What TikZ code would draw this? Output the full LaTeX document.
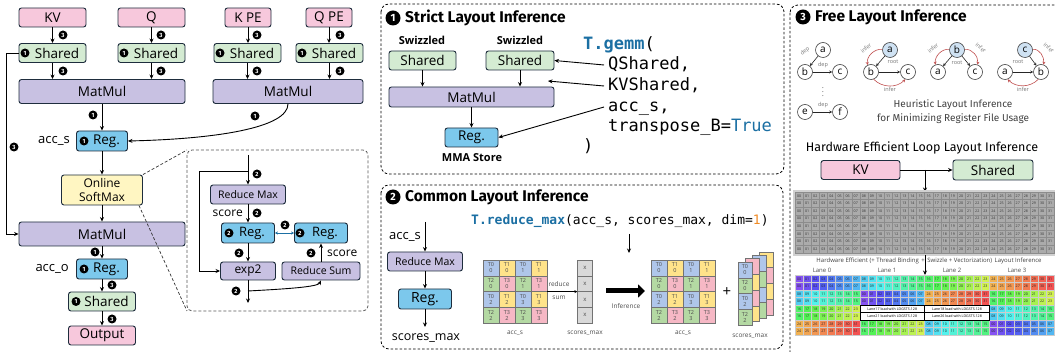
\documentclass[tikz,border=0pt]{standalone}
\usepackage{fontspec}
\setmainfont{Open Sans}
\newfontfamily\fira{Fira Sans}
\newfontfamily\mono{DejaVu Sans Mono}
\usetikzlibrary{arrows.meta,calc}
\definecolor{bdr}{HTML}{1E2D3D}
\definecolor{cpink}{HTML}{F7C8DC}
\definecolor{cgreen}{HTML}{D4EBD2}
\definecolor{cpurp}{HTML}{C8C1E2}
\definecolor{cblue}{HTML}{7CC8EC}
\definecolor{cyel}{HTML}{FFF6C2}
\definecolor{codeblue}{HTML}{1B6FA3}
\definecolor{codeorange}{HTML}{F08A24}
\definecolor{tb}{HTML}{AFC6EA}
\definecolor{ty}{HTML}{FFE38A}
\definecolor{tg}{HTML}{B4D9A3}
\definecolor{tp}{HTML}{F6B8C5}
\definecolor{inferred}{HTML}{C05050}
\definecolor{rootblue}{HTML}{CFE2F3}
\newcommand\fs[1]{\fontsize{#1}{#1}\selectfont}
\tikzset{
  box/.style={draw=bdr, line width=0.9pt, rounded corners=2.5pt, inner sep=0pt, font=\fs{13.5}},
  pinkbox/.style={box, fill=cpink},
  greenbox/.style={box, fill=cgreen},
  purpbox/.style={box, fill=cpurp},
  bluebox/.style={box, fill=cblue},
  yelbox/.style={box, fill=cyel},
  sz/.style 2 args={minimum width=#1, minimum height=#2},
  arr/.style={-{Stealth[length=4.5pt,width=4pt]}, line width=0.9pt},
  darr/.style={{Stealth[length=3pt,width=3pt]}-{Stealth[length=3pt,width=3pt]}, line width=0.7pt, draw=codeblue},
  bdg/.style={circle, fill=black, text=white, inner sep=0pt, minimum size=9pt, font=\fira\bfseries\fs{6}},
  hbdg/.style={circle, fill=black, text=white, inner sep=0pt, minimum size=15pt, font=\fira\bfseries\fs{10.5}},
  panel/.style={draw=black, line width=0.8pt, dash pattern=on 2.5pt off 2pt, rounded corners=8pt},
  callout/.style={draw=black!65, line width=0.8pt, dash pattern=on 3pt off 2pt, rounded corners=5pt},
  calloutline/.style={draw=black!80, line width=0.7pt, dash pattern=on 3pt off 2pt},
  lbl/.style={inner sep=0pt, font=\fs{13}},
  heading/.style={inner sep=0pt, anchor=west, font=\fira\bfseries\fs{15.5}},
  code/.style={inner sep=0pt, anchor=west, text height=12pt, text depth=3pt, font=\mono\fs{17}},
  cell/.style={draw=black!55, line width=0.3pt, minimum width=16pt, minimum height=15.75pt, inner sep=0pt, align=center, font=\fontsize{5.5}{6}\selectfont, text=black!70},
  xcell/.style={draw=black!55, line width=0.3pt, fill=black!15, minimum width=15pt, minimum height=15.75pt, inner sep=0pt, font=\fs{6}, text=black!70},
  scell/.style={draw=black!55, line width=0.3pt, minimum width=14pt, minimum height=15.75pt, inner sep=0pt, align=center, font=\fontsize{5.5}{6}\selectfont, text=black!70},
  small/.style={inner sep=0pt, font=\fs{6.5}, text=black!70},
  gnode/.style={circle, draw=black!75, line width=0.6pt, minimum size=15pt, inner sep=0pt, font=\fs{10}, fill=white},
  garr/.style={-{Stealth[length=3pt,width=3pt]}, line width=0.6pt, draw=black!85},
  infer/.style={-{Stealth[length=3pt,width=3pt]}, line width=0.6pt, draw=inferred},
  glbl/.style={inner sep=0pt, font=\fs{5.5}, text=black!55},
  gray cell/.style={draw=black!45, line width=0.25pt, fill=black!33, minimum width=8.1pt, minimum height=7.6pt, inner sep=0pt, font=\fs{3.6}, text=black!80},
  col cell/.style={draw=white!60!gray, line width=0.25pt, minimum width=8.1pt, minimum height=7.5pt, inner sep=0pt, font=\fs{3.6}, text=black!85},
  wbox/.style={draw=black, line width=0.5pt, fill=white, minimum width=64.8pt, minimum height=7.5pt, inner sep=0pt, font=\fs{3.6}},
}
\begin{document}
\begin{tikzpicture}[x=1pt,y=-1pt]
\useasboundingbox (0,0) rectangle (1055,352);
% ================= LEFT PANEL =================
\node[pinkbox, sz={67}{19}] (kv) at (52.5,17.5) {KV};
\node[pinkbox, sz={67}{19}] (q) at (151.5,17.5) {Q};
\node[pinkbox, sz={46}{19}] (kpe) at (248,17.5) {K PE};
\node[pinkbox, sz={46}{19}] (qpe) at (329,17.5) {Q PE};
\node[greenbox, sz={67}{19}] (sh1) at (52.5,53) {\hspace{9pt}Shared};
\node[greenbox, sz={67}{19}] (sh2) at (151.5,53) {\hspace{9pt}Shared};
\node[greenbox, sz={67}{19}] (sh3) at (247.5,53) {\hspace{9pt}Shared};
\node[greenbox, sz={67}{19}] (sh4) at (329.5,53) {\hspace{9pt}Shared};
\node[purpbox, sz={166}{24}] (mm1) at (102,91.5) {MatMul};
\node[purpbox, sz={150}{24}] (mm2) at (288,91.5) {MatMul};
\node[bluebox, sz={51}{20}] (reg1) at (102,141) {\hspace{9pt}Reg.};
\node[yelbox, sz={81}{30}, align=center, font=\fontsize{12}{14}\selectfont] (osm) at (102,190) {Online\\SoftMax};
\node[purpbox, sz={166}{24}] (mm3) at (102,234) {MatMul};
\node[bluebox, sz={51}{20}] (reg2) at (102,269) {\hspace{9pt}Reg.};
\node[greenbox, sz={67}{19}] (sh5) at (102,301.5) {\hspace{9pt}Shared};
\node[pinkbox, sz={67}{19}] (outp) at (102,335.5) {Output};

\draw[arr] (kv) -- (sh1);
\draw[arr] (q) -- (sh2);
\draw[arr] (kpe.south) -- (kpe.south |- sh3.north);
\draw[arr] (qpe.south) -- (qpe.south |- sh4.north);
\draw[arr] (sh1.south) -- (sh1.south |- mm1.north);
\draw[arr] (sh2.south) -- (sh2.south |- mm1.north);
\draw[arr] (sh3.south) -- (sh3.south |- mm2.north);
\draw[arr] (sh4.south) -- (sh4.south |- mm2.north);
\draw[arr] (mm1) -- (reg1);
\draw[arr] (mm2.south) .. controls (288,128) and (215,139) .. (reg1.east);
\draw[arr] (reg1) -- (osm);
\draw[arr] (osm) -- (mm3);
\draw[arr] (mm3) -- (reg2);
\draw[arr] (reg2) -- (sh5);
\draw[arr] (sh5) -- (outp);
\draw[arr] (sh1.west) -- ++(-12,0) |- (mm3.west);

\node[lbl, anchor=east] (laccs) at (70,141) {acc\_s};
\node[lbl, anchor=east] (lacco) at (69,269) {acc\_o};

\node[bdg] (b01) at (63,35) {3};
\node[bdg] (b02) at (63,71) {3};
\node[bdg] (b03) at (161,35) {3};
\node[bdg] (b04) at (161,71) {3};
\node[bdg] (b05) at (257,35) {3};
\node[bdg] (b06) at (257,71) {3};
\node[bdg] (b07) at (340,35) {3};
\node[bdg] (b08) at (340,71) {3};
\node[bdg] (b09) at (25,53) {1};
\node[bdg] (b10) at (124,53) {1};
\node[bdg] (b11) at (220,53) {1};
\node[bdg] (b12) at (302,53) {1};
\node[bdg] (b13) at (93,115) {1};
\node[bdg] (b14) at (255,116) {1};
\node[bdg] (b15) at (14,147) {3};
\node[bdg] (b16) at (84,141) {1};
\node[bdg] (b17) at (95,252) {1};
\node[bdg] (b18) at (84,269) {1};
\node[bdg] (b19) at (112,285) {3};
\node[bdg] (b20) at (76,301.5) {1};
\node[bdg] (b21) at (112,319) {3};

% callout
\coordinate (co1) at (187,150);
\coordinate (co2) at (187,311);
\draw[callout] (co1) rectangle (368,311);
\draw[calloutline] (osm.north east) -- (co1);
\draw[calloutline] ($(osm.south east)+(-4,0)$) -- (co2);
\coordinate (ctop) at (248,155);
\coordinate (cbr) at (248,171);
\node[purpbox, sz={75}{19}, font=\fs{10.5}] (rmax) at (248,194.5) {Reduce Max};
\node[bluebox, sz={53}{20}, font=\fs{13}] (rega) at (248,233) {\hspace{8pt}Reg.};
\node[bluebox, sz={53}{20}, font=\fs{13}] (regb) at (321,233) {\hspace{8pt}Reg.};
\node[purpbox, sz={55}{18}, font=\fs{12}] (expn) at (248,271) {exp2};
\node[purpbox, sz={78}{18}, font=\fs{10.5}] (rsum) at (321,271) {Reduce Sum};
\coordinate (cmid) at (248,291);
\coordinate (cbot) at (248,303);
\draw[arr] (ctop) -- (rmax);
\draw[arr] (cbr) -- (199,171) -- (199,271) -- (expn.west);
\draw[arr] (rmax) -- (rega);
\draw[arr] (rega) -- (expn);
\draw[darr] (rega) -- (regb);
\draw[arr] (rsum) -- (regb);
\draw[arr] (expn) -- (cbot);
\draw[arr] (cmid) .. controls (285,289) and (318,287) .. (rsum.south);
\node[lbl, anchor=east, font=\fs{12}] (lsc1) at (243,213) {score};
\node[lbl, anchor=west, font=\fs{12}] (lsc2) at (327,253) {score};
\node[bdg] (c01) at (257,174) {2};
\node[bdg] (c02) at (257,213) {2};
\node[bdg] (c03) at (229,233) {2};
\node[bdg] (c04) at (300,233) {2};
\node[bdg] (c05) at (285,225) {2};
\node[bdg] (c06) at (239,253) {2};
\node[bdg] (c07) at (311,253) {2};
\node[bdg] (c08) at (236,291) {2};

% ================= MIDDLE PANEL: box 1 =================
\draw[panel] (381,4) rectangle (784,174);
\node[hbdg] (h1) at (393,18) {1};
\node[heading] (h1t) at (405,18) {Strict Layout Inference};
\node[inner sep=0pt, font=\bfseries\fs{11}] (swz1) at (422,40) {Swizzled};
\node[inner sep=0pt, font=\bfseries\fs{11}] (swz2) at (520,40) {Swizzled};
\node[greenbox, sz={67}{19}] (shA) at (422.5,60.5) {Shared};
\node[greenbox, sz={68}{19}] (shB) at (520,60.5) {Shared};
\node[purpbox, sz={165}{20}] (mmA) at (471.5,97) {MatMul};
\node[bluebox, sz={53}{19}] (regC) at (471.5,137.5) {Reg.};
\node[inner sep=0pt, font=\bfseries\fs{11}] (mma) at (472,158) {MMA Store};
\draw[arr] (shA.south) -- (shA.south |- mmA.north);
\draw[arr] (shB.south) -- (shB.south |- mmA.north);
\draw[arr] (mmA) -- (regC);

\node[code] (c1) at (583,45) {\textcolor{codeblue}{\bfseries T.gemm}(};
\node[code] (c2) at (608,65) {QShared,};
\node[code] (c3) at (608,86) {KVShared,};
\node[code] (c4) at (608,107) {acc\_s,};
\node[code] (c5) at (608,127) {transpose\_B=\textcolor{codeblue}{True}};
\node[code] (c6) at (583,147) {)};
\coordinate (kvtgt) at (548,81);
\draw[arr] ($(c2.west)+(-4,0)$) -- (shB.east);
\draw[arr] ($(c3.west)+(-4,0)$) -- (kvtgt);
\draw[arr] ($(c4.west)+(-4,0)$) -- (regC.east);

% ================= MIDDLE PANEL: box 2 =================
\draw[panel] (381,185) rectangle (783,349);
\node[hbdg] (h2) at (393,197) {2};
\node[heading] (h2t) at (405,197) {Common Layout Inference};
\node[inner sep=0pt, anchor=west, text height=9pt, text depth=2.5pt, font=\mono\fs{13}] (rcode) at (471,221)
  {\textcolor{codeblue}{\bfseries T.reduce\_max}(acc\_s, scores\_max, dim=\textcolor{codeorange}{1})};
\coordinate (dtop) at (629,234);
\coordinate (dbot) at (629,253);
\draw[arr] (dtop) -- (dbot);

\node[lbl] (laccs2) at (405,237) {acc\_s};
\coordinate (ain) at (425,222);
\node[purpbox, sz={75}{19}, font=\fs{10.5}] (rmax2) at (425,261.5) {Reduce Max};
\node[bluebox, sz={53}{20}, font=\fs{14}] (reg3) at (425,299) {Reg.};
\coordinate (aout) at (425,327);
\node[lbl, font=\fs{12.5}] (lsm) at (426,338) {scores\_max};
\draw[arr] (ain) -- (rmax2);
\draw[arr] (rmax2) -- (reg3);
\draw[arr] (reg3) -- (aout);

% acc_s grids
\foreach \gx/\gn in {483/ga, 651/gb}{
  \foreach \ri/\ci/\col/\tn/\nn in {0/0/tb/0/0, 0/1/ty/1/0, 0/2/tb/0/1, 0/3/ty/1/1,
      1/0/tg/2/0, 1/1/tp/3/0, 1/2/tg/2/1, 1/3/tp/3/1,
      2/0/tb/0/2, 2/1/ty/1/2, 2/2/tb/0/3, 2/3/ty/1/3,
      3/0/tg/2/2, 3/1/tp/3/2, 3/2/tg/2/3, 3/3/tp/3/3}{
    \node[cell, fill=\col] (\gn-\ri-\ci) at (\gx+8+16*\ci, 267.9+15.75*\ri) {T\tn\\\nn};
  }
}
\node[small] (lga) at (515,333) {acc\_s};
\node[small] (lgb) at (683,333) {acc\_s};
% reduce sum column
\foreach \ri in {0,...,3}{
  \node[xcell] (xs-\ri) at (585,267.9+15.75*\ri) {x};
}
\node[small] (lxs) at (585,333) {scores\_max};
\node[small, font=\fs{6.5}] (lred) at (559,284) {reduce};
\node[small, font=\fs{6.5}] (lsum) at (559,298) {sum};
\draw[-{Stealth[length=3pt,width=3pt]}, line width=0.6pt] (ga-1-3.south east) -- (xs-1.south west);
% inference arrow
\coordinate (ia1) at (606,291);
\coordinate (ia2) at (645,291);
\draw[line width=5pt, -{Triangle[length=7pt,width=13pt]}] (ia1) -- (ia2);
\node[small] (linf) at (626,306) {Inference};
\node[inner sep=0pt, font=\fs{15}] (plus) at (727,292) {+};
% stacked scores_max
\foreach \k/\ca/\cb in {3/ty/tp, 2/tb/tg, 1/tp/ty}{
  \foreach \ri in {0,...,3}{
    \ifodd\ri
      \node[scell, fill=\cb] (st-\k-\ri) at (745+7*\k, 269.9-3.4*\k+15.75*\ri) {};
    \else
      \node[scell, fill=\ca] (st-\k-\ri) at (745+7*\k, 269.9-3.4*\k+15.75*\ri) {};
    \fi
  }
}
\foreach \ri/\col/\tn/\nn in {0/tb/0/0, 1/tg/2/0, 2/tb/0/2, 3/tg/2/2}{
  \node[scell, fill=\col] (st-0-\ri) at (745, 269.9+15.75*\ri) {T\tn\\\nn};
}
\node[small] (lst) at (750,336) {scores\_max};

% ================= RIGHT PANEL =================
\draw[panel] (790,5) rectangle (1075,370);
\node[hbdg] (h3) at (803,17) {3};
\node[heading] (h3t) at (815,17) {Free Layout Inference};

% graph 1
\node[gnode] (g1a) at (823,50) {a};
\node[gnode] (g1b) at (805,72) {b};
\node[gnode] (g1c) at (840,72) {c};
\node[gnode] (g1e) at (805,112) {e};
\node[gnode] (g1f) at (840,112) {f};
\draw[garr] (g1a) -- (g1b);
\draw[garr] (g1b) -- (g1c);
\draw[garr] (g1e) -- (g1f);
\node[glbl, rotate=38] (d1) at (805,51) {dep};
\node[glbl] (d2) at (823,65) {dep};
\node[glbl] (d3) at (823,105) {dep};
\node[inner sep=0pt, font=\fs{8}, text=black!60] (vd) at (823,89) {$\vdots$};
% graph 2
\node[gnode, fill=rootblue] (g2a) at (890,50) {a};
\node[gnode] (g2b) at (871,72) {b};
\node[gnode] (g2c) at (908,72) {c};
\draw[garr] (g2a) -- (g2b);
\draw[garr] (g2b) -- (g2c);
\draw[infer] (g2a.175) to[out=175,in=100] (g2b.115);
\draw[infer] (g2b.-70) to[out=-45,in=-135] (g2c.-110);
\node[glbl] (r2) at (893,62) {root};
\node[glbl, rotate=40] (i2a) at (866,48) {infer};
\node[glbl] (i2b) at (890,89) {infer};
% graph 3
\node[gnode, fill=rootblue] (g3b) at (957,50) {b};
\node[gnode] (g3a) at (938,72) {a};
\node[gnode] (g3c) at (975,72) {c};
\draw[garr] (g3b) -- (g3a);
\draw[garr] (g3b) -- (g3c);
\draw[infer] (g3b.175) to[out=175,in=95] (g3a.110);
\draw[infer] (g3b.5) to[out=5,in=85] (g3c.70);
\node[glbl] (r3) at (957,62.5) {root};
\node[glbl, rotate=40] (i3a) at (933,48) {infer};
\node[glbl, rotate=-40] (i3b) at (981,48) {infer};
% graph 4
\node[gnode, fill=rootblue] (g4c) at (1025,50) {c};
\node[gnode] (g4a) at (1005,72) {a};
\node[gnode] (g4b) at (1041,72) {b};
\draw[garr] (g4a) -- (g4b);
\draw[garr] (g4c) -- (g4b);
\draw[infer] (g4c.5) to[out=5,in=85] (g4b.70);
\draw[infer] (g4b.-110) to[out=-135,in=-45] (g4a.-70);
\node[glbl] (r4) at (1018,62) {root};
\node[glbl, rotate=-40] (i4a) at (1049,48) {infer};
\node[glbl] (i4b) at (1023,89) {infer};

\node[inner sep=0pt, font=\fira\fs{10}, text=black!75] (heu1) at (953,105) {Heuristic Layout Inference};
\node[inner sep=0pt, font=\fira\fs{10}, text=black!75] (heu2) at (953,119) {for Minimizing Register File Usage};
\node[inner sep=0pt, font=\fira\fs{12.5}] (hwt) at (922,148) {Hardware Efficient Loop Layout Inference};

\node[pinkbox, sz={79}{19}] (kv2) at (860.5,170) {KV};
\node[greenbox, sz={80}{20}] (sh6) at (993,170) {Shared};
\coordinate (kvb) at (925,170);
\coordinate (gtop) at (925,192);
\draw[arr] (kv2) -- (sh6);
\draw[arr] (kvb) -- (gtop);

% gray grid
\fill[black!18] (793,190) rectangle (1060,256);
\foreach \ri in {0,...,7}{
  \foreach \ji in {0,...,31}{
    \node[gray cell] (gg-\ri-\ji) at (799.05+8.1*\ji, 195.8+7.6*\ri) {\ifnum\ji<10 0\fi\ji};
  }
}
\node[inner sep=0pt, font=\fs{6}, text=black!75] (hwl) at (929,261) {Hardware Efficient (+ Thread Binding \,+\, Swizzle + Vectorization) \,Layout Inference};
\coordinate (lt1) at (925,255);
\coordinate (lt2) at (925,275);
\draw[arr] (lt1) -- (lt2);
\foreach \li in {0,...,3}{
  \node[inner sep=0pt, font=\fs{6}, text=black!70] (lane\li) at (822+65*\li,270) {Lane \li};
}
% coloured grid
\foreach \ri in {0,...,7}{
  \foreach \li in {0,...,3}{
    \pgfmathtruncatemacro\base{{0,8,16,24, 0,8,16,24, 8,0,24,16, 8,0,24,16, 16,-1,-1,8, 16,-1,-1,8, 24,16,8,0, 24,16,8,0}[4*\ri+\li]}
    \ifnum\base<0\relax\else
      \foreach \ji in {0,...,7}{
        \pgfmathtruncatemacro\vv{\base+\ji}
        \pgfmathsetmacro\hh{\vv<24 ? 0.72-0.0226*\vv : max(0.1-0.0143*(\vv-24),0)}
        \definecolor{gtmp}{hsb}{\hh,0.66,0.95}
        \colorlet{gcol}[rgb]{gtmp}
        \node[col cell, fill=gcol] (cg-\ri-\li-\ji) at (799.05+64.8*\li+8.1*\ji, 278.75+7.5*\ri) {\ifnum\vv<10 0\fi\vv};
      }
    \fi
  }
}
\node[wbox] (wb1) at (892.2,308.75) {Lane17 load with LDGSTS.128};
\node[wbox] (wb2) at (957,308.75) {Lane18 load with LDGSTS.128};
\node[wbox] (wb3) at (892.2,316.25) {Lane21 load with LDGSTS.128};
\node[wbox] (wb4) at (957,316.25) {Lane26 load with LDGSTS.128};
\end{tikzpicture}
\end{document}
